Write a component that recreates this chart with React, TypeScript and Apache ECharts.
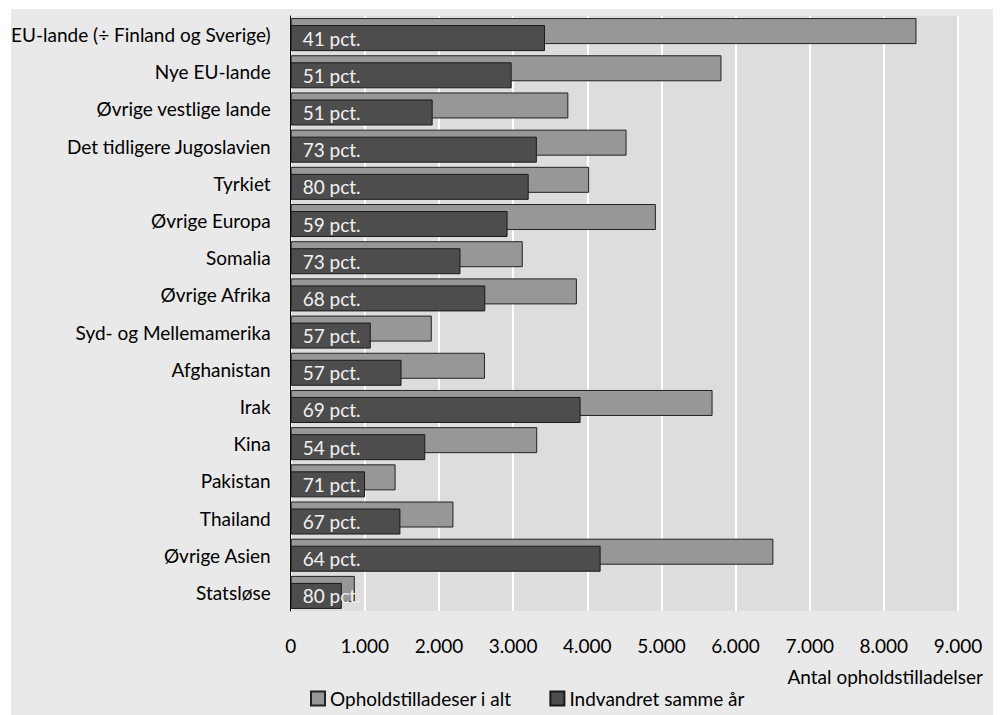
import React, { useEffect, useRef } from "react";
import * as echarts from "echarts";

const categories = [
  "EU-lande (÷ Finland og Sverige)",
  "Nye EU-lande",
  "Øvrige vestlige lande",
  "Det tidligere Jugoslavien",
  "Tyrkiet",
  "Øvrige Europa",
  "Somalia",
  "Øvrige Afrika",
  "Syd- og Mellemamerika",
  "Afghanistan",
  "Irak",
  "Kina",
  "Pakistan",
  "Thailand",
  "Øvrige Asien",
  "Statsløse",
];
const totalValues = [8440, 5810, 3745, 4530, 4025, 4925, 3130, 3860, 1903, 2620, 5690, 3325, 1415, 2195, 6510, 865];
const sameYearValues = [3430, 2980, 1915, 3320, 3210, 2925, 2290, 2625, 1080, 1495, 3910, 1815, 1003, 1480, 4180, 690];
const pctLabels = [41, 51, 51, 73, 80, 59, 73, 68, 57, 57, 69, 54, 71, 67, 64, 80];
const seriesNames = ["Opholdstilladeser i alt", "Indvandret samme år"];
const axisTitle = "Antal opholdstilladelser";

const FONT = "Lato";

export default function App() {
  const ref = useRef<HTMLDivElement>(null);
  useEffect(() => {
    if (!ref.current) return;
    const chart = echarts.init(ref.current, null, { renderer: "svg" });
    chart.setOption({
      animation: false,
      textStyle: { fontFamily: FONT },
      graphic: [
        {
          type: "rect",
          z: -10,
          silent: true,
          shape: { x: 3, y: 1, width: 982, height: 720 },
          style: { fill: "#e9e9e9" },
        },
        {
          type: "text",
          right: 11,
          top: 659,
          style: { text: axisTitle, font: `19px ${FONT}`, fill: "#000" },
        },
      ],
      legend: {
        left: 302,
        top: 681,
        padding: 0,
        icon: "rect",
        itemWidth: 14,
        itemHeight: 14,
        itemGap: 38,
        textStyle: { fontFamily: FONT, fontSize: 19, color: "#000" },
        data: seriesNames,
      },
      grid: {
        left: 280,
        top: 8,
        width: 670,
        height: 595,
        show: true,
        backgroundColor: "#dddddd",
        borderWidth: 0,
      },
      xAxis: {
        type: "value",
        min: 0,
        max: 9000,
        interval: 1000,
        axisLine: { show: false },
        axisTick: { show: false },
        splitLine: { show: true, lineStyle: { color: "#ffffff", width: 2 } },
        axisLabel: {
          margin: 25,
          fontSize: 19,
          color: "#000",
          fontFamily: FONT,
          formatter: (v: number) => (v >= 1000 ? Math.floor(v / 1000) + ".000" : String(v)),
        },
      },
      yAxis: {
        type: "category",
        inverse: true,
        data: categories,
        axisLine: { show: true, lineStyle: { color: "#000", width: 1 } },
        axisTick: { show: false },
        axisLabel: { margin: 20, fontSize: 19, color: "#000", fontFamily: FONT },
      },
      series: [
        {
          name: seriesNames[0],
          type: "bar",
          data: totalValues,
          barWidth: 26,
          barGap: "-73%",
          itemStyle: { color: "#979797", borderColor: "#222", borderWidth: 1 },
        },
        {
          name: seriesNames[1],
          type: "bar",
          data: sameYearValues,
          barWidth: 26,
          barGap: "-73%",
          itemStyle: { color: "#4d4d4d", borderColor: "#1a1a1a", borderWidth: 1 },
          label: {
            show: true,
            position: "insideLeft",
            distance: 12,
            overflow: "none",
            color: "#f2f2f2",
            fontSize: 19,
            fontFamily: FONT,
            formatter: (p: any) => pctLabels[p.dataIndex] + " pct.",
          },
        },
      ],
    });
    return () => chart.dispose();
  }, []);
  return <div ref={ref} style={{ width: 986, height: 707 }} />;
}
